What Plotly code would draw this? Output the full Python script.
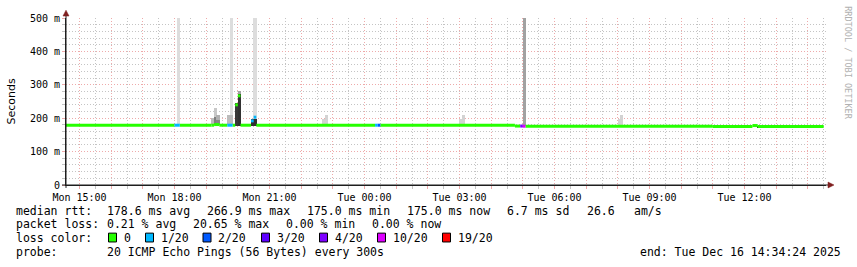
import plotly.graph_objects as go
import pandas as pd

# ---------------- data ----------------
START = "2025-12-15 14:34:24"
END = "2025-12-16 14:34:24"

# median RTT segments: start, end, median (ms), lost pings out of 20
med_start = ["2025-12-15 14:34:24", "2025-12-15 18:00", "2025-12-15 18:10", "2025-12-15 19:10",
             "2025-12-15 19:15", "2025-12-15 19:25", "2025-12-15 19:40", "2025-12-15 19:50",
             "2025-12-15 19:55", "2025-12-15 20:00", "2025-12-15 20:05", "2025-12-15 20:25",
             "2025-12-15 20:30", "2025-12-15 20:35", "2025-12-16 00:20", "2025-12-16 00:25",
             "2025-12-16 00:30", "2025-12-16 04:45", "2025-12-16 04:55", "2025-12-16 05:00",
             "2025-12-16 05:05", "2025-12-16 11:00", "2025-12-16 12:15", "2025-12-16 12:25"]
med_end = ["2025-12-15 18:00", "2025-12-15 18:10", "2025-12-15 19:10", "2025-12-15 19:15",
           "2025-12-15 19:25", "2025-12-15 19:40", "2025-12-15 19:50", "2025-12-15 19:55",
           "2025-12-15 20:00", "2025-12-15 20:05", "2025-12-15 20:25", "2025-12-15 20:30",
           "2025-12-15 20:35", "2025-12-16 00:20", "2025-12-16 00:25", "2025-12-16 00:30",
           "2025-12-16 04:45", "2025-12-16 04:55", "2025-12-16 05:00", "2025-12-16 05:05",
           "2025-12-16 11:00", "2025-12-16 12:15", "2025-12-16 12:25", "2025-12-16 14:30"]
med_ms = [179, 179, 179, 179, 181, 179, 179, 179, 240, 267, 179, 192,
          203, 179, 179, 179, 179, 176.5, 176.5, 176, 176, 175, 178, 175]
med_loss = [0, 1, 0, 0, 0, 0, 1, 0, 0, 0, 0, 1, 1, 0, 1, 2, 0, 0, 4, 10, 0, 0, 0, 0]

# smoke (ping spread) per 5-minute step: start, low (ms), high (ms), density 0..1
smoke_start = ["2025-12-15 18:05", "2025-12-15 19:10", "2025-12-15 19:15", "2025-12-15 19:15",
               "2025-12-15 19:20", "2025-12-15 19:20", "2025-12-15 19:40", "2025-12-15 19:45",
               "2025-12-15 19:45", "2025-12-15 19:55", "2025-12-15 20:00", "2025-12-15 20:00",
               "2025-12-15 20:25", "2025-12-15 20:30", "2025-12-15 20:30", "2025-12-15 22:40",
               "2025-12-15 22:45", "2025-12-16 03:00", "2025-12-16 03:05", "2025-12-16 05:00",
               "2025-12-16 08:00", "2025-12-16 08:05", "2025-12-16 12:25"]
smoke_low = [181, 181, 181, 181, 181, 181, 181, 181, 181, 177, 177, 177,
             177, 181, 177, 181, 181, 181, 181, 178, 181, 181, 172]
smoke_high = [500, 200, 230, 205, 210, 195, 210, 500, 210, 245, 280, 272,
              199, 500, 199, 199, 209, 199, 209, 500, 199, 209, 174.5]
smoke_density = [0.0, 0.19, 0.12, 0.54, 0.26, 0.5, 0.19, 0.0, 0.19, 0.95, 0.34, 0.98,
                 1.0, 0.0, 1.0, 0.06, 0.06, 0.06, 0.06, 0.34, 0.06, 0.06, 1.0]
STEP_S = 300

loss_levels = [0, 1, 2, 3, 4, 10, 19]
loss_labels = ["0", "1/20", "2/20", "3/20", "4/20", "10/20", "19/20"]

tick_times = ["2025-12-15 15:00", "2025-12-15 18:00", "2025-12-15 21:00", "2025-12-16 00:00",
              "2025-12-16 03:00", "2025-12-16 06:00", "2025-12-16 09:00", "2025-12-16 12:00"]
tick_labels = ["Mon 15:00", "Mon 18:00", "Mon 21:00", "Tue 00:00",
               "Tue 03:00", "Tue 06:00", "Tue 09:00", "Tue 12:00"]
y_ticks = [0, 100, 200, 300, 400, 500]
y_labels = ["0", "100 m", "200 m", "300 m", "400 m", "500 m"]

legend_rtt = ["178.6 ms avg", "266.9 ms max", "175.0 ms min", "175.0 ms now", "6.7 ms sd", "26.6", "am/s"]
legend_loss = ["0.21 % avg", "20.65 % max", "0.00 % min", "0.00 % now"]
probe_text = "20 ICMP Echo Pings (56 Bytes) every 300s"
end_text = "end: Tue Dec 16 14:34:24 2025"

# ---------------- styles ----------------
LOSS_COLORS = {0: "#26ff00", 1: "#00b8ff", 2: "#0059ff", 3: "#5e00ff",
               4: "#7e00ff", 10: "#dd00ff", 19: "#ff0000"}
MGRID = "#eeaaaa"
GRID = "#c4c4c4"
AXIS = "#1f1f1f"
ARROW = "#7f1f1f"
MONO = "DejaVu Sans Mono"
DASH = "1px,2px"
BAR_W_S = 360   # drawn width of one smoke column (covers pixel rounding)

W, H = 857, 267
L, R, T, B = 66, 31, 15, 82
PW = W - L - R
PH = H - T - B


def fx(px):
    return (px - L) / PW


def fy(py):
    return (H - B - py) / PH


def grey(d):
    v = int(round(221 - d * (221 - 47)))
    return f"rgb({v},{v},{v})"


fig = go.Figure()

# smoke
ss = pd.to_datetime(smoke_start)
centers = ss + pd.Timedelta(seconds=STEP_S / 2)
fig.add_trace(go.Bar(
    x=centers, base=smoke_low,
    y=[h - l for h, l in zip(smoke_high, smoke_low)],
    width=[BAR_W_S * 1000] * len(smoke_start),
    marker=dict(color=[grey(d) for d in smoke_density], line=dict(width=0)),
    hoverinfo="skip",
))

# median line coloured by loss
for lvl in loss_levels:
    xs, ys = [], []
    for s, e, v, lo in zip(med_start, med_end, med_ms, med_loss):
        if lo == lvl:
            xs += [s, e, None]
            ys += [v, v, None]
    if xs:
        fig.add_trace(go.Scatter(x=xs, y=ys, mode="lines",
                                 line=dict(color=LOSS_COLORS[lvl], width=3),
                                 hoverinfo="skip", connectgaps=False))

hourly = pd.date_range("2025-12-15 15:00", "2025-12-16 14:00", freq="1h")
halfhours = pd.date_range("2025-12-15 15:30", "2025-12-16 14:30", freq="1h")
lab = dict(zip(pd.to_datetime(tick_times), tick_labels))
hour_text = [lab.get(t, "") for t in hourly]
y_minor = [v for v in range(20, 500, 20) if v % 100 != 0]

fig.update_layout(
    width=W, height=H,
    margin=dict(l=L, r=R, t=T, b=B, pad=0),
    paper_bgcolor="white", plot_bgcolor="white",
    showlegend=False, barmode="overlay", bargap=0,
    font=dict(family=MONO, size=10, color="black"),
    xaxis=dict(
        type="date", range=[START, END],
        tickmode="array", tickvals=hourly, ticktext=hour_text,
        showgrid=True, gridcolor=MGRID, griddash=DASH, gridwidth=1,
        ticks="outside", ticklen=3, tickcolor=MGRID, tickwidth=1,
        showline=True, linecolor=AXIS, linewidth=1,
        zeroline=False, tickfont=dict(family=MONO, size=10, color="black"),
        minor=dict(tickmode="array", tickvals=halfhours,
                   showgrid=True, gridcolor=GRID, griddash=DASH, gridwidth=1,
                   ticks="outside", ticklen=3, tickcolor=GRID),
    ),
    yaxis=dict(
        range=[0, 500], tickmode="array", tickvals=y_ticks, ticktext=y_labels,
        showgrid=True, gridcolor=MGRID, griddash=DASH, gridwidth=1,
        ticks="outside", ticklen=3, tickcolor=MGRID, tickwidth=1,
        showline=True, linecolor=AXIS, linewidth=1, zeroline=False,
        tickfont=dict(family=MONO, size=10, color="black"),
        minor=dict(tickmode="array", tickvals=y_minor, showgrid=True, gridcolor=GRID,
                   griddash=DASH, gridwidth=1, ticks="outside", ticklen=3, tickcolor=GRID),
    ),
)

ann = []
shapes = []


def txt(s, x, y, anchor="left", size=11.5, family=MONO, color="black", angle=0):
    ann.append(dict(text=s, x=fx(x), y=fy(y), xref="paper", yref="paper",
                    xanchor=anchor, yanchor="middle", showarrow=False, textangle=angle,
                    borderpad=0, borderwidth=0,
                    font=dict(family=family, size=size, color=color)))


# y-axis title and watermark
txt("Seconds", 11, 100, anchor="center", size=11, family="DejaVu Sans", angle=-90)
txt("RRDTOOL / TOBI OETIKER", 848, 60, anchor="center", size=8.5, color="#b0b0b0", angle=90)

# legend
rows_y = [211.5, 225, 239, 252.7]
txt("median rtt:", 16, rows_y[0])
for s, x in zip(legend_rtt, [107.3, 207.3, 306.7, 407.3, 507.3, 586.7, 634.3]):
    txt(s, x, rows_y[0])
txt("packet loss:", 16, rows_y[1])
for s, x in zip(legend_loss, [107.3, 193.3, 286.2, 372.3]):
    txt(s, x, rows_y[1])
txt("loss color:", 16, rows_y[2])
for lvl, s, bx in zip(loss_levels, loss_labels, [108.5, 145.5, 203, 261.5, 319.5, 377.5, 442.5]):
    shapes.append(dict(type="rect", xref="paper", yref="paper",
                       x0=fx(bx), x1=fx(bx + 8), y0=fy(243), y1=fy(234),
                       fillcolor=LOSS_COLORS[lvl], line=dict(color="black", width=1)))
    txt(s, bx + 15, rows_y[2])
txt("probe:", 16, rows_y[3])
txt(probe_text, 107.3, rows_y[3])
txt(end_text, 841, rows_y[3], anchor="right")

# axis extensions and arrows
shapes.append(dict(type="line", xref="paper", yref="paper", x0=fx(62), x1=fx(829),
                   y0=fy(185), y1=fy(185), line=dict(color=AXIS, width=1)))
shapes.append(dict(type="line", xref="paper", yref="paper", x0=fx(66), x1=fx(66),
                   y0=fy(188), y1=fy(11), line=dict(color=AXIS, width=1)))
shapes.append(dict(type="path", xref="paper", yref="paper",
                   path=f"M {fx(63)},{fy(13)} L {fx(69)},{fy(13)} L {fx(66)},{fy(7)} Z",
                   fillcolor=ARROW, line=dict(color=ARROW, width=0.5)))
shapes.append(dict(type="path", xref="paper", yref="paper",
                   path=f"M {fx(828)},{fy(182)} L {fx(828)},{fy(188)} L {fx(834)},{fy(185)} Z",
                   fillcolor=ARROW, line=dict(color=ARROW, width=0.5)))

fig.update_layout(annotations=ann, shapes=shapes)
fig.write_html("out.html")
